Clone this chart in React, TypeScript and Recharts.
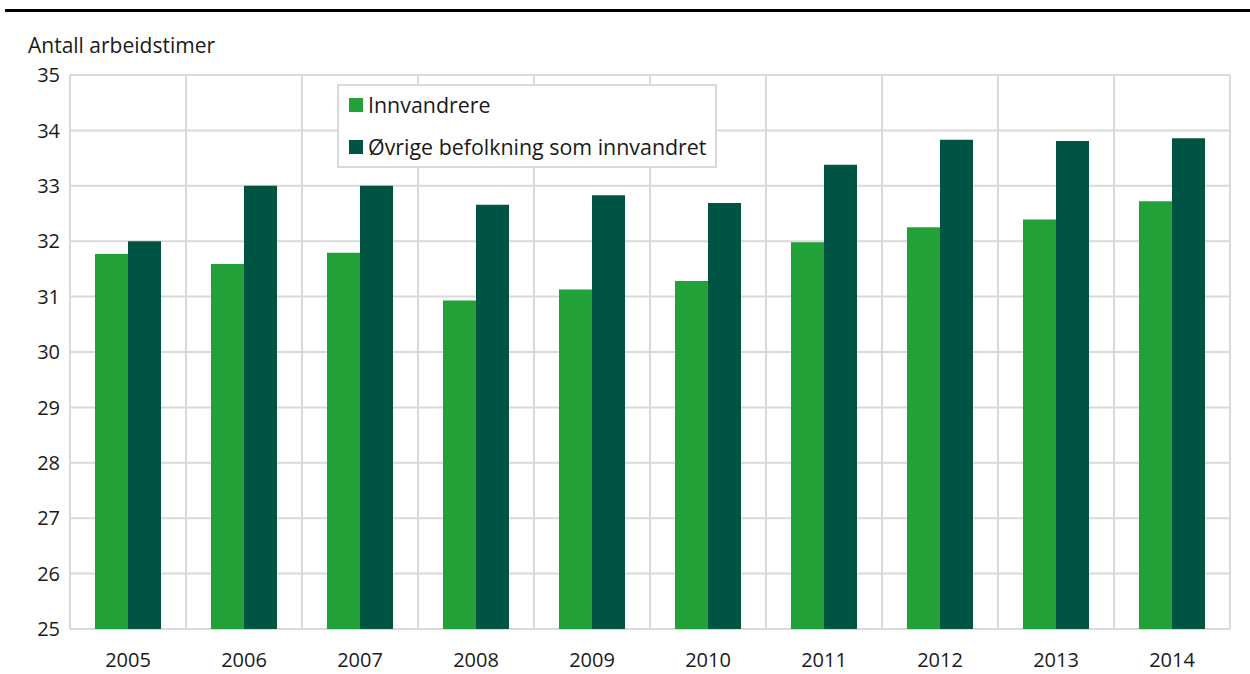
import React from 'react';
import { BarChart, Bar, XAxis, YAxis, CartesianGrid } from 'recharts';

const YEARS = ['2005', '2006', '2007', '2008', '2009', '2010', '2011', '2012', '2013', '2014'];
const INNVANDRERE = [31.77, 31.59, 31.79, 30.93, 31.13, 31.28, 31.98, 32.25, 32.39, 32.72];
const OVRIGE = [32.0, 33.0, 33.0, 32.66, 32.83, 32.69, 33.38, 33.83, 33.81, 33.86];
const Y_TICKS = [25, 26, 27, 28, 29, 30, 31, 32, 33, 34, 35];

const GREEN = '#22a139';
const DARK = '#005443';
const GRID = '#d9d9d9';
const FONT = '"Open Sans", "Noto Sans", sans-serif';

const data = YEARS.map((year, i) => ({
	year,
	innvandrere: INNVANDRERE[i],
	ovrige: OVRIGE[i],
}));

const LEGEND_ITEMS = [
	{ label: 'Innvandrere', color: GREEN },
	{ label: 'Øvrige befolkning som innvandret', color: DARK },
];

// vertical grid sits on the category boundaries, not the tick centres
const boundaryLines = ({ offset }: any) => {
	const step = offset.width / YEARS.length;
	return Array.from({ length: YEARS.length + 1 }, (_, i) => offset.left + i * step);
};

const App: React.FC = () => (
	<div style={{ position: 'absolute', left: 0, top: 0, width: 1250, height: 674, fontFamily: FONT }}>
		<div style={{ position: 'absolute', left: 5, top: 9, width: 1245, height: 3, background: '#000' }} />
		<div style={{ position: 'absolute', left: 28, top: 31, fontSize: 21, color: '#1a1a1a', whiteSpace: 'nowrap' }}>
			Antall arbeidstimer
		</div>
		<BarChart
			width={1250}
			height={674}
			data={data}
			margin={{ top: 75, right: 20, bottom: 0, left: 10 }}
			barGap={0}
			barCategoryGap={50}
		>
			<CartesianGrid
				stroke={GRID}
				strokeWidth={2}
				verticalCoordinatesGenerator={boundaryLines}
			/>
			<XAxis
				dataKey="year"
				axisLine={false}
				tickLine={false}
				tickSize={0}
				tickMargin={24}
				height={45}
				tick={{ fill: '#1a1a1a', fontSize: 20, fontFamily: FONT }}
			/>
			<YAxis
				domain={[25, 35]}
				ticks={Y_TICKS}
				interval={0}
				allowDataOverflow
				axisLine={false}
				tickLine={false}
				tickSize={0}
				tickMargin={10}
				width={60}
				tick={{ fill: '#1a1a1a', fontSize: 20, fontFamily: FONT }}
			/>
			<Bar dataKey="innvandrere" fill={GREEN} barSize={33} isAnimationActive={false} />
			<Bar dataKey="ovrige" fill={DARK} barSize={33} isAnimationActive={false} />
		</BarChart>
		<div
			style={{
				position: 'absolute',
				left: 337,
				top: 84,
				width: 376,
				height: 80,
				background: '#fff',
				border: `2px solid ${GRID}`,
				fontSize: 21.4,
				color: '#1a1a1a',
			}}
		>
			{LEGEND_ITEMS.map((item, i) => (
				<div
					key={item.label}
					style={{ position: 'absolute', left: 10, top: 4 + i * 42, display: 'flex', alignItems: 'center', whiteSpace: 'nowrap' }}
				>
					<span style={{ display: 'inline-block', width: 14, height: 14, background: item.color, marginRight: 5 }} />
					{item.label}
				</div>
			))}
		</div>
	</div>
);

export default App;
